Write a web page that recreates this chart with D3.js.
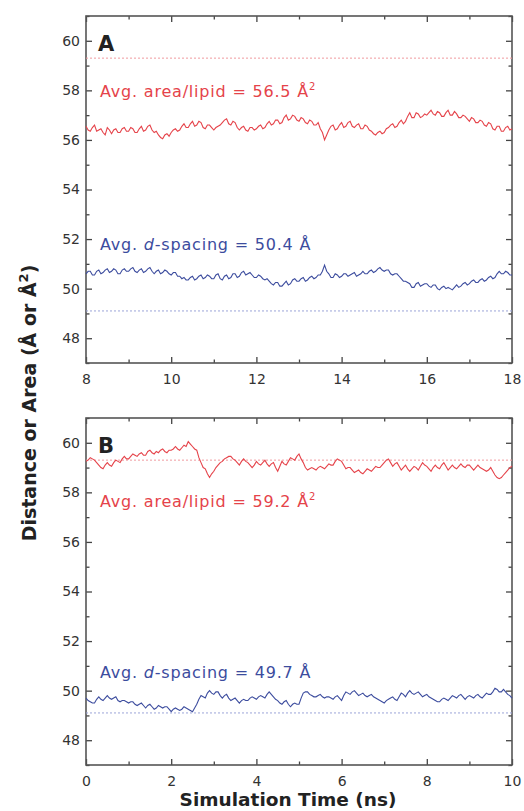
<!DOCTYPE html>
<html>
<head>
<meta charset="utf-8">
<script src="https://d3js.org/d3.v7.min.js"></script>
<style>
  body { margin: 0; background: #fff; }
  svg text { font-family: "DejaVu Sans", "Open Sans", sans-serif; }
</style>
</head>
<body>
<div class="wrapper"></div>
<script>
// time axes (ns), one value every 0.05 ns
var timeA = d3.range(201).map(function(i) { return 8 + i * 0.05; });
var timeB = d3.range(201).map(function(i) { return i * 0.05; });

// panel A : area per lipid (Å²) and d-spacing (Å), one row per ns
var areaA = [
  56.55,56.4,56.35,56.5,56.6,56.35,56.4,56.45,56.3,56.2,56.5,56.4,56.25,56.4,56.45,56.3,56.3,56.45,56.5,56.35,
  56.35,56.5,56.45,56.3,56.3,56.45,56.55,56.35,56.4,56.55,56.6,56.4,56.3,56.35,56.2,56.1,56.05,56.2,56.25,56.15,
  56.3,56.4,56.45,56.35,56.4,56.55,56.65,56.5,56.5,56.65,56.75,56.55,56.6,56.75,56.7,56.5,56.45,56.6,56.6,56.5,
  56.4,56.5,56.55,56.6,56.7,56.8,56.85,56.65,56.6,56.75,56.7,56.5,56.4,56.5,56.55,56.4,56.35,56.5,56.5,56.4,
  56.45,56.55,56.6,56.45,56.5,56.65,56.75,56.6,56.65,56.8,56.8,56.65,56.7,56.9,57.0,56.8,56.85,57.0,56.95,56.8,
  56.75,56.9,56.85,56.7,56.65,56.8,56.75,56.6,56.6,56.7,56.45,56.3,56.0,56.2,56.4,56.55,56.6,56.4,56.45,56.6,
  56.7,56.5,56.55,56.7,56.75,56.55,56.5,56.6,56.65,56.45,56.45,56.6,56.55,56.4,56.35,56.25,56.2,56.3,56.35,56.25,
  56.3,56.45,56.5,56.6,56.65,56.5,56.55,56.7,56.8,56.65,56.75,56.95,57.1,56.9,56.9,57.1,57.05,56.9,56.95,57.05,
  57.0,57.1,57.2,57.05,57.0,57.15,57.1,56.95,56.95,57.1,57.2,57.0,57.0,57.15,57.05,56.9,56.9,57.0,56.95,56.85,
  56.75,56.9,56.85,56.7,56.7,56.8,56.75,56.6,56.55,56.7,56.65,56.45,56.4,56.55,56.55,56.35,56.35,56.5,56.55,56.4,
  56.45];
var dspaceA = [
  50.6,50.7,50.7,50.55,50.55,50.7,50.75,50.6,50.65,50.75,50.8,50.65,50.7,50.8,50.75,50.6,50.6,50.75,50.8,50.7,
  50.7,50.8,50.85,50.7,50.65,50.75,50.8,50.65,50.7,50.8,50.85,50.7,50.6,50.7,50.75,50.6,50.65,50.75,50.7,50.6,
  50.55,50.65,50.65,50.5,50.5,50.4,50.45,50.35,50.35,50.45,50.5,50.35,50.4,50.5,50.55,50.4,50.45,50.55,50.5,50.4,
  50.4,50.55,50.6,50.4,50.35,50.5,50.55,50.4,50.45,50.6,50.6,50.45,50.5,50.65,50.7,50.55,50.6,50.65,50.55,50.45,
  50.45,50.55,50.5,50.4,50.35,50.4,50.3,50.2,50.15,50.25,50.25,50.1,50.1,50.2,50.3,50.15,50.2,50.35,50.4,50.3,
  50.3,50.4,50.45,50.3,50.35,50.45,50.5,50.4,50.45,50.55,50.55,50.7,50.95,50.7,50.6,50.45,50.45,50.6,50.55,50.45,
  50.5,50.6,50.6,50.5,50.55,50.6,50.65,50.5,50.55,50.6,50.7,50.6,50.6,50.7,50.75,50.65,50.7,50.8,50.85,50.75,
  50.7,50.75,50.75,50.6,50.55,50.6,50.6,50.5,50.4,50.3,50.3,50.25,50.2,50.05,50.05,50.2,50.25,50.1,50.15,50.2,
  50.2,50.1,50.05,50.15,50.15,50.0,49.95,50.05,50.1,50.0,50.05,50.0,49.95,50.05,50.15,50.05,50.1,50.2,50.25,50.15,
  50.2,50.3,50.35,50.25,50.25,50.35,50.4,50.3,50.35,50.45,50.5,50.4,50.45,50.6,50.7,50.6,50.6,50.7,50.65,50.55,
  50.55];

// panel B
var areaB = [
  59.25,59.3,59.4,59.35,59.3,59.2,59.1,59.0,58.95,59.1,59.2,59.1,59.05,59.2,59.3,59.25,59.2,59.35,59.45,59.35,
  59.35,59.45,59.55,59.5,59.45,59.55,59.6,59.5,59.5,59.65,59.7,59.6,59.55,59.65,59.6,59.7,59.75,59.65,59.6,59.7,
  59.7,59.75,59.85,59.75,59.7,59.8,59.9,59.85,60.05,59.95,59.85,59.75,59.7,59.4,59.2,59.0,58.95,58.75,58.6,58.75,
  58.85,59.0,59.1,59.2,59.25,59.35,59.4,59.45,59.45,59.35,59.3,59.2,59.1,59.25,59.35,59.25,59.2,59.1,59.0,59.1,
  59.25,59.15,59.1,59.2,59.3,59.15,59.05,59.15,59.2,59.0,58.85,59.05,59.25,59.15,59.1,59.25,59.4,59.35,59.3,59.45,
  59.55,59.35,59.2,59.0,58.9,58.95,59.0,58.95,58.9,59.0,59.05,59.0,58.95,59.05,59.15,59.1,59.1,59.25,59.35,59.3,
  59.25,59.1,58.95,59.0,59.0,58.9,58.8,58.85,58.9,58.8,58.75,58.85,58.95,58.9,58.85,58.95,59.05,59.0,59.0,59.1,
  59.2,59.3,59.35,59.2,59.05,59.15,59.2,59.05,58.9,59.0,59.1,58.95,58.85,58.95,59.05,59.0,58.9,59.05,59.2,59.1,
  59.05,58.95,58.85,59.0,59.1,59.0,58.95,59.1,59.2,59.05,58.9,59.0,59.1,59.0,58.95,59.05,59.15,59.05,59.0,59.1,
  59.1,59.0,58.9,59.0,59.1,59.0,58.95,58.9,58.85,58.9,59.0,58.85,58.7,58.6,58.55,58.6,58.7,58.8,58.9,59.0,
  59.05];
var dspaceB = [
  49.7,49.6,49.55,49.5,49.5,49.65,49.75,49.65,49.6,49.7,49.8,49.7,49.65,49.7,49.75,49.6,49.55,49.6,49.6,49.55,
  49.5,49.55,49.55,49.45,49.4,49.45,49.5,49.4,49.3,49.4,49.45,49.35,49.25,49.3,49.4,49.35,49.3,49.35,49.35,49.25,
  49.15,49.25,49.3,49.25,49.2,49.25,49.35,49.3,49.25,49.2,49.15,49.3,49.45,49.65,49.8,49.75,49.7,49.9,50.0,49.9,
  49.85,49.95,49.95,49.8,49.7,49.8,49.85,49.7,49.6,49.65,49.7,49.6,49.5,49.6,49.65,49.6,49.6,49.7,49.75,49.7,
  49.65,49.75,49.8,49.75,49.7,49.85,49.95,49.85,49.75,49.65,49.6,49.5,49.45,49.55,49.6,49.45,49.35,49.45,49.5,49.45,
  49.45,49.7,49.9,49.95,49.95,49.85,49.8,49.75,49.75,49.8,49.85,49.75,49.7,49.75,49.75,49.7,49.65,49.75,49.8,49.7,
  49.6,49.8,49.95,49.9,49.85,49.95,50.0,49.9,49.8,49.85,49.9,49.8,49.75,49.8,49.85,49.75,49.7,49.65,49.6,49.55,
  49.5,49.6,49.65,49.7,49.75,49.65,49.6,49.75,49.9,49.85,49.75,49.9,50.0,49.9,49.85,49.9,49.95,49.85,49.75,49.8,
  49.85,49.75,49.7,49.65,49.6,49.55,49.55,49.65,49.7,49.65,49.6,49.7,49.8,49.75,49.7,49.8,49.85,49.75,49.65,49.75,
  49.8,49.75,49.7,49.8,49.85,49.75,49.7,49.8,49.9,49.85,49.85,49.95,50.1,50.05,49.95,49.95,50.05,49.95,49.85,49.8,
  49.7];

// reference (experimental) values, dashed
var refArea = 59.3, refDspace = 49.1;
var avgAreaText = ["56.5", "59.2"];
var avgDspaceText = ["50.4", "49.7"];
var panelLetters = ["A", "B"];
var yTicks = [48, 50, 52, 54, 56, 58, 60];

var width = 524, height = 811;
var red = "#e5434a", blue = "#3c4c9e";

var svg = d3.select(".wrapper")
  .append("svg")
  .attr("width", width)
  .attr("height", height);

var panels = [
  {top: 16, time: timeA, area: areaA, dsp: dspaceA, xdom: [8, 18]},
  {top: 418, time: timeB, area: areaB, dsp: dspaceB, xdom: [0, 10]}
];
var left = 86, right = 512, ph = 347;

panels.forEach(function(p, k) {
  var g = svg.append("g").attr("transform", "translate(" + left + "," + p.top + ")");
  var w = right - left;

  var x = d3.scaleLinear().domain(p.xdom).range([0, w]);
  var y = d3.scaleLinear().domain([47, 61]).range([ph, 0]);

  var xMinor = d3.range(p.xdom[0] + 1, p.xdom[1], 2);
  var xMajor = d3.range(p.xdom[0], p.xdom[1] + 0.1, 2);
  var yMinor = d3.range(47, 62, 2);

  // ticks, drawn inward on all four sides
  function axis(gen, scale, vals, size, labels, tr) {
    var a = g.append("g").attr("transform", tr)
      .call(gen(scale).tickValues(vals).tickSize(size).tickPadding(6)
        .tickFormat(labels ? d3.format("d") : ""));
    a.select(".domain").remove();
    a.selectAll("line").attr("stroke", "#444").attr("stroke-width", 1.3);
    a.selectAll("text").attr("fill", "#333").style("font-size", "14px");
    return a;
  }
  var bx = axis(d3.axisBottom, x, xMajor, -6, true, "translate(0," + ph + ")");
  bx.selectAll("text").attr("y", 9).attr("dy", "0.85em");
  axis(d3.axisBottom, x, xMinor, -3.5, false, "translate(0," + ph + ")");
  axis(d3.axisTop, x, xMajor, -6, false, "translate(0,0)");
  axis(d3.axisTop, x, xMinor, -3.5, false, "translate(0,0)");
  var ly = axis(d3.axisLeft, y, yTicks, -6, true, "translate(0,0)");
  ly.selectAll("text").attr("x", -6);
  axis(d3.axisLeft, y, yMinor, -3.5, false, "translate(0,0)");
  axis(d3.axisRight, y, yTicks, -6, false, "translate(" + w + ",0)");
  axis(d3.axisRight, y, yMinor, -3.5, false, "translate(" + w + ",0)");

  // frame
  g.append("rect")
    .attr("width", w).attr("height", ph)
    .attr("fill", "none").attr("stroke", "#555").attr("stroke-width", 1.6);

  // dashed reference lines
  [[refArea, "#f09a9e"], [refDspace, "#9ba4d8"]].forEach(function(r) {
    g.append("line")
      .attr("x1", 0).attr("x2", w)
      .attr("y1", y(r[0])).attr("y2", y(r[0]))
      .attr("stroke", r[1]).attr("stroke-width", 1)
      .attr("stroke-dasharray", "2,2");
  });

  var line = d3.line()
    .x(function(d) { return x(d[0]); })
    .y(function(d) { return y(d[1]); });

  g.append("path")
    .datum(p.time.map(function(t, i) { return [t, p.area[i]]; }))
    .attr("d", line).attr("fill", "none")
    .attr("stroke", red).attr("stroke-width", 1.1);
  g.append("path")
    .datum(p.time.map(function(t, i) { return [t, p.dsp[i]]; }))
    .attr("d", line).attr("fill", "none")
    .attr("stroke", blue).attr("stroke-width", 1.1);

  // labels
  g.append("text")
    .attr("x", 12).attr("y", 35)
    .style("font-size", "21px").style("font-weight", "bold")
    .attr("fill", "#222").text(panelLetters[k]);

  var t1 = g.append("text")
    .attr("x", 14).attr("y", k === 0 ? 81 : 89)
    .attr("fill", red).style("font-size", "16px").style("letter-spacing", "0.8px");
  t1.append("tspan").text("Avg. area/lipid = " + avgAreaText[k] + " Å");
  t1.append("tspan").attr("dy", -7).style("font-size", "10px").text("2");

  var t2 = g.append("text")
    .attr("x", 14).attr("y", k === 0 ? 234 : 260)
    .attr("fill", blue).style("font-size", "16px").style("letter-spacing", "0.8px");
  t2.append("tspan").text("Avg. ");
  t2.append("tspan").style("font-style", "italic").text("d");
  t2.append("tspan").text("-spacing = " + avgDspaceText[k] + " Å");
});

// axis titles
var yt = svg.append("text")
  .attr("transform", "translate(36,403) rotate(-90)")
  .attr("text-anchor", "middle")
  .style("font-size", "19px").style("font-weight", "bold")
  .attr("fill", "#222");
yt.append("tspan").text("Distance or Area (Å or Å");
yt.append("tspan").attr("dy", -8).style("font-size", "13px").text("2");
yt.append("tspan").attr("dy", 8).text(")");

svg.append("text")
  .attr("x", 288).attr("y", 806)
  .attr("text-anchor", "middle")
  .style("font-size", "18.5px").style("font-weight", "bold")
  .attr("fill", "#222")
  .text("Simulation Time (ns)");
</script>
</body>
</html>
